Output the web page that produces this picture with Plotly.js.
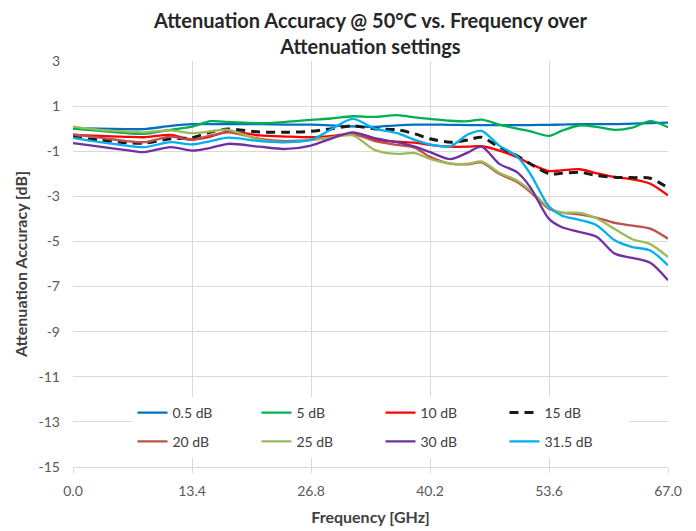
<!DOCTYPE html>
<html>
<head>
<meta charset="utf-8">
<script src="https://cdn.plot.ly/plotly-3.0.1.min.js"></script>
<style>html,body{margin:0;padding:0;background:#fff;}#chart{width:696px;height:531px;}</style>
</head>
<body>
<div id="chart"></div>
<script>
var freq = [0, 3, 6, 8, 11, 13.4, 15.5, 17.5, 21, 24, 26.8, 29, 31.5, 34, 36.5, 38.5, 40.2, 42.5, 44.5, 46, 48, 50, 51.5, 53.6, 55, 57, 59, 61, 63, 65, 67];

var att05 = [0.02, 0.0, -0.02, -0.02, 0.12, 0.2, 0.2, 0.2, 0.2, 0.18, 0.18, 0.15, 0.1, 0.08, 0.15, 0.18, 0.18, 0.17, 0.16, 0.16, 0.16, 0.16, 0.16, 0.17, 0.18, 0.2, 0.2, 0.2, 0.22, 0.25, 0.27];
var att5 = [0.0, -0.1, -0.2, -0.23, -0.05, 0.09, 0.33, 0.3, 0.24, 0.3, 0.39, 0.45, 0.55, 0.52, 0.6, 0.5, 0.43, 0.35, 0.33, 0.4, 0.18, 0.0, -0.12, -0.32, -0.1, 0.14, 0.08, -0.05, 0.05, 0.33, 0.06];
var att10 = [-0.28, -0.32, -0.36, -0.38, -0.28, -0.48, -0.35, -0.13, -0.3, -0.35, -0.38, -0.33, -0.23, -0.5, -0.58, -0.62, -0.72, -0.8, -0.8, -0.78, -0.97, -1.26, -1.56, -1.88, -1.85, -1.8, -1.98, -2.15, -2.25, -2.44, -2.96];
var att15 = [-0.38, -0.5, -0.62, -0.64, -0.45, -0.4, -0.15, -0.02, -0.15, -0.16, -0.12, -0.01, 0.12, -0.01, -0.05, -0.23, -0.45, -0.6, -0.5, -0.38, -0.82, -1.2, -1.56, -2.0, -1.98, -1.93, -2.08, -2.15, -2.17, -2.2, -2.62];
var att20 = [-0.25, -0.4, -0.55, -0.6, -0.35, -0.5, -0.3, -0.16, -0.45, -0.55, -0.5, -0.4, -0.23, -0.55, -0.72, -0.85, -1.25, -1.55, -1.58, -1.5, -2.0, -2.37, -2.81, -3.55, -3.72, -3.8, -3.95, -4.18, -4.3, -4.43, -4.88];
var att25 = [0.09, -0.05, -0.12, -0.16, -0.08, -0.2, -0.12, -0.05, -0.5, -0.6, -0.5, -0.4, -0.3, -0.95, -1.12, -1.08, -1.34, -1.55, -1.55, -1.45, -1.95, -2.3, -2.74, -3.5, -3.72, -3.73, -3.98, -4.45, -4.9, -5.12, -5.69];
var att30 = [-0.64, -0.8, -0.95, -1.04, -0.82, -0.97, -0.85, -0.67, -0.8, -0.9, -0.75, -0.45, -0.16, -0.42, -0.6, -0.8, -1.04, -1.35, -1.05, -0.8, -1.56, -1.93, -2.6, -4.0, -4.36, -4.58, -4.8, -5.54, -5.73, -5.95, -6.72];
var att315 = [-0.41, -0.6, -0.75, -0.82, -0.6, -0.7, -0.55, -0.4, -0.55, -0.6, -0.5, -0.05, 0.43, 0.0, -0.2, -0.5, -0.7, -0.78, -0.25, -0.1, -0.75, -1.23, -2.0, -3.45, -3.85, -4.04, -4.29, -4.95, -5.25, -5.4, -6.06];

var seriesNames = ['0.5 dB', '5 dB', '10 dB', '15 dB', '20 dB', '25 dB', '30 dB', '31.5 dB'];
var seriesValues = [att05, att5, att10, att15, att20, att25, att30, att315];
var seriesColors = ['#0070C0', '#00B050', '#FF0000', '#1a1a1a', '#C0504D', '#9BBB59', '#7030A0', '#00B0F0'];

var xTickVals = [0, 13.4, 26.8, 40.2, 53.6, 67.0];
var xTickText = ['0.0', '13.4', '26.8', '40.2', '53.6', '67.0'];
var yTickVals = [3, 1, -1, -3, -5, -7, -9, -11, -13, -15];
var yTickText = ['3', '1', '-1', '-3', '-5', '-7', '-9', '-11', '-13', '-15'];

var traces = seriesNames.map(function (name, i) {
  return {
    x: freq,
    y: seriesValues[i],
    name: name,
    type: 'scatter',
    mode: 'lines',
    line: {
      color: seriesColors[i],
      width: i === 3 ? 3 : 2.3,
      dash: i === 3 ? '9px,6px' : 'solid',
      shape: 'spline',
      smoothing: 0.8
    },
    legend: i < 4 ? 'legend' : 'legend2'
  };
});

var fontFam = 'Lato, "Open Sans", sans-serif';
var legendCommon = {
  orientation: 'h',
  xanchor: 'left',
  yanchor: 'middle',
  x: 0.1,
  entrywidth: 79,
  entrywidthmode: 'pixels',
  bgcolor: '#ffffff',
  borderwidth: 0,
  font: { family: fontFam, size: 14, color: '#404040' }
};

var layout = {
  width: 696,
  height: 531,
  margin: { l: 73, r: 28, t: 61, b: 64 },
  paper_bgcolor: '#ffffff',
  plot_bgcolor: '#ffffff',
  font: { family: fontFam, color: '#595959' },
  title: {
    text: '<b>Attenuation Accuracy @ 50°C vs. Frequency over<br>Attenuation settings</b>',
    font: { family: fontFam, size: 20, color: '#262626' },
    x: 0.5,
    xref: 'paper',
    y: 0.948,
    yref: 'container',
    yanchor: 'middle'
  },
  xaxis: {
    range: [0, 67],
    tickvals: xTickVals,
    ticktext: xTickText,
    showgrid: true,
    gridcolor: '#d9d9d9',
    gridwidth: 1,
    zeroline: false,
    showline: true,
    linecolor: '#d9d9d9',
    linewidth: 1,
    ticks: 'outside',
    ticklen: 5,
    tickcolor: '#d9d9d9',
    ticklabelstandoff: 6,
    tickfont: { family: fontFam, size: 14, color: '#595959' },
    title: { text: '<b>Frequency [GHz]</b>', font: { family: fontFam, size: 16, color: '#404040' }, standoff: 14 },
    automargin: false
  },
  yaxis: {
    range: [-15, 3],
    tickvals: yTickVals,
    ticktext: yTickText,
    showgrid: true,
    gridcolor: '#d9d9d9',
    gridwidth: 1,
    zeroline: false,
    showline: false,
    ticks: '',
    ticklabelstandoff: 12,
    tickfont: { family: fontFam, size: 14, color: '#595959' },
    title: { text: '<b>Attenuation Accuracy [dB]</b>', font: { family: fontFam, size: 16, color: '#404040' }, standoff: 6 },
    automargin: false
  },
  legend: Object.assign({}, legendCommon, { y: 0.133 }),
  legend2: Object.assign({}, legendCommon, { y: 0.062 }),
  showlegend: true
};

Plotly.newPlot('chart', traces, layout, { displayModeBar: false, staticPlot: true });
</script>
</body>
</html>
